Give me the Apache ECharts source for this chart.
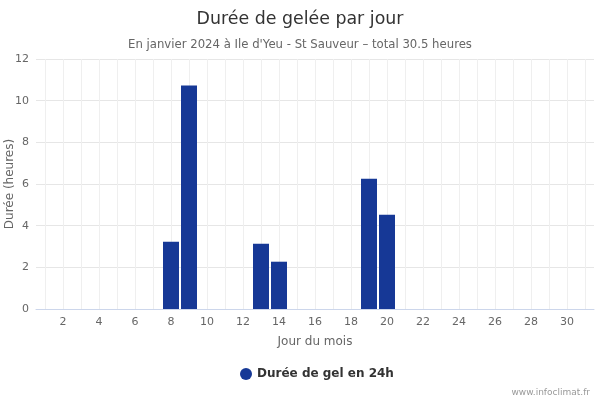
<!DOCTYPE html>
<html>
<head>
<meta charset="utf-8">
<script src="https://cdn.jsdelivr.net/npm/echarts@6/dist/echarts.min.js"></script>
<style>
  html, body { margin: 0; padding: 0; background: #fff; }
  #chart { width: 600px; height: 400px; }
</style>
</head>
<body>
<div id="chart"></div>
<script>
// jours du mois de janvier
const days = [];
for (let d = 1; d <= 31; d++) days.push(String(d));

// durée de gel (heures) par jour
const frostHours = [
  0, 0, 0, 0, 0, 0, 0, 3.23, 10.73, 0,
  0, 0, 3.13, 2.27, 0, 0, 0, 0, 6.25, 4.52,
  0, 0, 0, 0, 0, 0, 0, 0, 0, 0,
  0
];

const yTicks = [0, 2, 4, 6, 8, 10, 12];

const font = 'DejaVu Sans, Verdana, sans-serif';
const chart = echarts.init(document.getElementById('chart'));

chart.setOption({
  animation: false,
  textStyle: { fontFamily: font },
  title: [
    {
      text: 'Durée de gelée par jour',
      left: 'center',
      top: 6,
      textStyle: { fontSize: 17.4, fontWeight: 'normal', color: '#333', fontFamily: font }
    },
    {
      text: 'En janvier 2024 à Ile d\'Yeu - St Sauveur – total 30.5 heures',
      left: 'center',
      top: 34,
      textStyle: { fontSize: 11.7, fontWeight: 'normal', color: '#666', fontFamily: font }
    }
  ],
  grid: { left: 36, right: 6, top: 59, bottom: 91, containLabel: false, outerBoundsMode: 'none' },
  xAxis: {
    type: 'category',
    data: days,
    boundaryGap: true,
    name: 'Jour du mois',
    nameLocation: 'middle',
    nameGap: 27,
    nameMoveOverlap: false,
    nameTextStyle: { color: '#666', fontSize: 12 },
    axisLine: { lineStyle: { color: '#ccd6eb' } },
    axisTick: {
      alignWithLabel: true,
      length: 5,
      interval: (i) => i % 2 === 1,
      lineStyle: { color: '#ccd6eb' }
    },
    axisLabel: {
      interval: (i) => i % 2 === 1,
      color: '#666',
      fontSize: 11,
      margin: 8
    },
    splitLine: {
      show: true,
      alignWithLabel: true,
      interval: 0,
      lineStyle: { color: '#efefef' }
    }
  },
  yAxis: {
    type: 'value',
    min: yTicks[0],
    max: yTicks[yTicks.length - 1],
    interval: 2,
    name: 'Durée (heures)',
    nameLocation: 'middle',
    nameGap: 20,
    nameMoveOverlap: false,
    nameTextStyle: { color: '#666', fontSize: 12 },
    axisLine: { show: false },
    axisTick: { show: false },
    axisLabel: { color: '#666', fontSize: 11, margin: 7 },
    splitLine: { lineStyle: { color: '#e6e6e6' } }
  },
  legend: {
    data: ['Durée de gel en 24h'],
    left: 235,
    top: 363,
    icon: 'circle',
    itemWidth: 12,
    itemHeight: 12,
    itemGap: 5,
    textStyle: { color: '#333', fontSize: 12, fontWeight: 'bold' }
  },
  graphic: [
    {
      type: 'text',
      right: 10,
      top: 388,
      style: { text: 'www.infoclimat.fr', fill: '#999', fontSize: 9, fontFamily: font }
    }
  ],
  series: [
    {
      name: 'Durée de gel en 24h',
      type: 'bar',
      data: frostHours,
      barWidth: 16,
      itemStyle: { color: '#163896' }
    }
  ]
});
</script>
</body>
</html>
